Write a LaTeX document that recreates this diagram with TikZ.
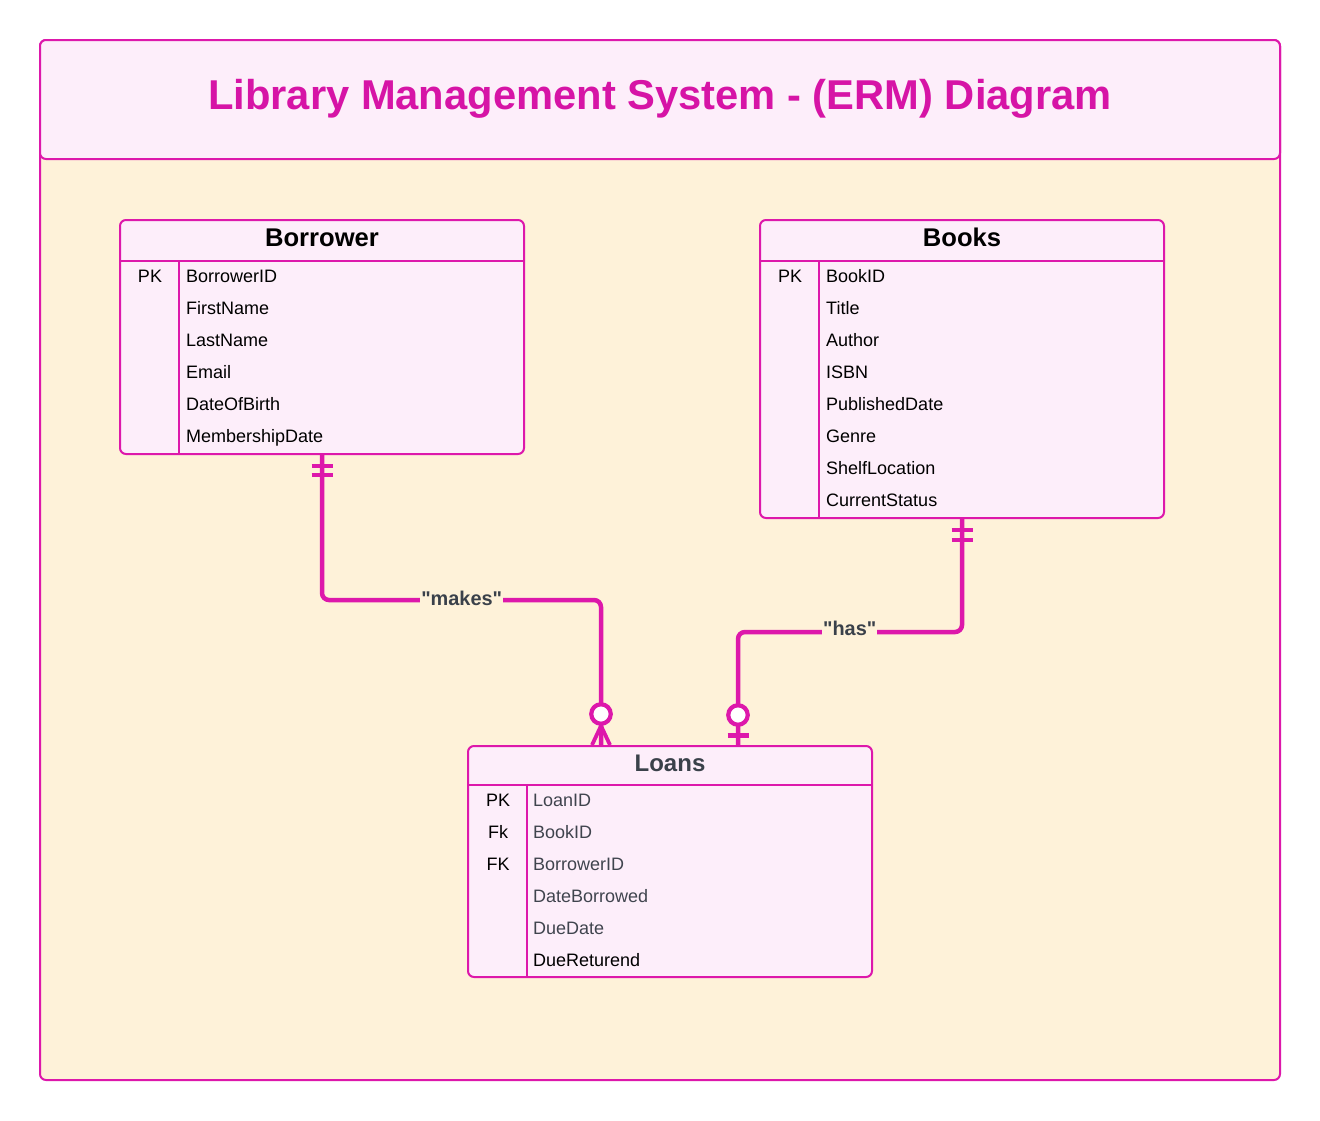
\documentclass[tikz,border=0pt]{standalone}
\usepackage{fontspec}
\setmainfont{Liberation Sans}
\usetikzlibrary{calc}
\definecolor{mag}{RGB}{221,24,171}
\definecolor{titlemag}{RGB}{214,20,166}
\definecolor{pinkfill}{RGB}{253,238,250}
\definecolor{cream}{RGB}{254,242,217}
\definecolor{darkgrey}{RGB}{58,65,74}
\definecolor{fieldgrey}{RGB}{64,68,78}
\tikzset{
  framebox/.style={draw=mag, line width=2pt, rounded corners=6pt},
  tablebox/.style={draw=mag, fill=pinkfill, line width=2pt, rounded corners=6pt, inner sep=0pt, rectangle},
  sepline/.style={draw=mag, line width=2pt},
  tabtitle/.style={font=\fontsize{25.6}{26}\selectfont\bfseries, anchor=base, inner sep=0pt},
  field/.style={font=\fontsize{18}{18}\selectfont, anchor=base west, inner sep=0pt},
  keylab/.style={font=\fontsize{18}{18}\selectfont, anchor=base, inner sep=0pt},
  conn/.style={draw=mag, line width=4.5pt, rounded corners=7pt},
  rel/.style={font=\fontsize{19.9}{20}\selectfont\bfseries, text=darkgrey, fill=cream, inner xsep=1pt, inner ysep=2pt, anchor=base},
  barline/.style={draw=mag, line width=4.5pt},
  footline/.style={draw=mag, line width=3.8pt},
  ring/.style={draw=mag, fill=white, line width=4.2pt, circle, minimum size=19.5pt, inner sep=0pt},
}
\begin{document}
\begin{tikzpicture}[x=1pt,y=-1pt]
\useasboundingbox (0,0) rectangle (1320,1120);
\fill[white] (0,0) rectangle (1320,1120);
% frame
\path[framebox, fill=cream] (40,40) rectangle (1280,1080);
\path[framebox, fill=pinkfill] (40,40) rectangle (1280,159);
\node[font=\fontsize{41.7}{42}\selectfont\bfseries, text=titlemag, anchor=base, inner sep=0pt] (title) at (660,109) {Library Management System - (ERM) Diagram};

% Borrower
\node[tablebox, minimum width=404pt, minimum height=234pt] (borrower) at (322,337) {};
\draw[sepline] ($(borrower.north west)+(0,42)$) -- ($(borrower.north east)+(0,42)$);
\draw[sepline] ($(borrower.north west)+(60,42)$) -- ($(borrower.south west)+(60,0)$);
\node[tabtitle] (borrowerT) at (322,246.7) {Borrower};
\node[keylab] (borrowerPK) at (150,282) {PK};
\foreach \t [count=\i from 0] in {BorrowerID,FirstName,LastName,Email,DateOfBirth,MembershipDate}
  \node[field] (bf\i) at (186,282+32*\i) {\t};

% Books
\node[tablebox, minimum width=404pt, minimum height=298pt] (books) at (962,369) {};
\draw[sepline] ($(books.north west)+(0,42)$) -- ($(books.north east)+(0,42)$);
\draw[sepline] ($(books.north west)+(60,42)$) -- ($(books.south west)+(60,0)$);
\node[tabtitle] (booksT) at (962,246.7) {Books};
\node[keylab] (booksPK) at (790,282) {PK};
\foreach \t [count=\i from 0] in {BookID,Title,Author,ISBN,PublishedDate,Genre,ShelfLocation,CurrentStatus}
  \node[field] (kf\i) at (826,282+32*\i) {\t};

% Loans
\node[tablebox, minimum width=404pt, minimum height=231pt] (loans) at (670,861.5) {};
\draw[sepline] ($(loans.north west)+(0,40)$) -- ($(loans.north east)+(0,40)$);
\draw[sepline] ($(loans.north west)+(60,40)$) -- ($(loans.south west)+(60,0)$);
\node[tabtitle, font=\fontsize{24}{24}\selectfont\bfseries, text=darkgrey] (loansT) at (670,771.7) {Loans};
\node[keylab] (loansPK) at (498,806) {PK};
\node[keylab] (loansFK1) at (498,838) {Fk};
\node[keylab] (loansFK2) at (498,870) {FK};
\foreach \t [count=\i from 0] in {LoanID,BookID,BorrowerID,DateBorrowed,DueDate}
  \node[field, text=fieldgrey] (lf\i) at (533,806+32*\i) {\t};
\node[field] (lf5) at (533,966) {DueReturend};

% makes connector
\coordinate (mk1) at (322,600);
\coordinate (mk2) at (601,600);
\coordinate (lm) at (601,746);
\draw[conn] (borrower.south) -- (mk1) -- (mk2) -- (lm);
\draw[barline] ($(borrower.south)+(-10.5,11)$) -- ($(borrower.south)+(10.5,11)$);
\draw[barline] ($(borrower.south)+(-10.5,20)$) -- ($(borrower.south)+(10.5,20)$);
\node[ring] (mkring) at ($(lm)+(0,-32)$) {};
\draw[footline] (mkring.south) -- ($(lm)+(-9,-1)$);
\draw[footline] (mkring.south) -- ($(lm)+(9,-1)$);
\node[rel] (makes) at (461.7,605) {\textquotedbl makes\textquotedbl};

% has connector
\coordinate (h1) at (962,632);
\coordinate (h2) at (738,632);
\coordinate (lh) at (738,746);
\draw[conn] (books.south) -- (h1) -- (h2) -- (lh);
\draw[barline] ($(books.south)+(-10.5,11)$) -- ($(books.south)+(10.5,11)$);
\draw[barline] ($(books.south)+(-10.5,21)$) -- ($(books.south)+(10.5,21)$);
\node[ring] (hasring) at ($(lh)+(0,-31)$) {};
\draw[barline] ($(lh)+(-10.5,-10.7)$) -- ($(lh)+(10.5,-10.7)$);
\node[rel] (has) at (849.7,635.5) {\textquotedbl has\textquotedbl};
\end{tikzpicture}
\end{document}
